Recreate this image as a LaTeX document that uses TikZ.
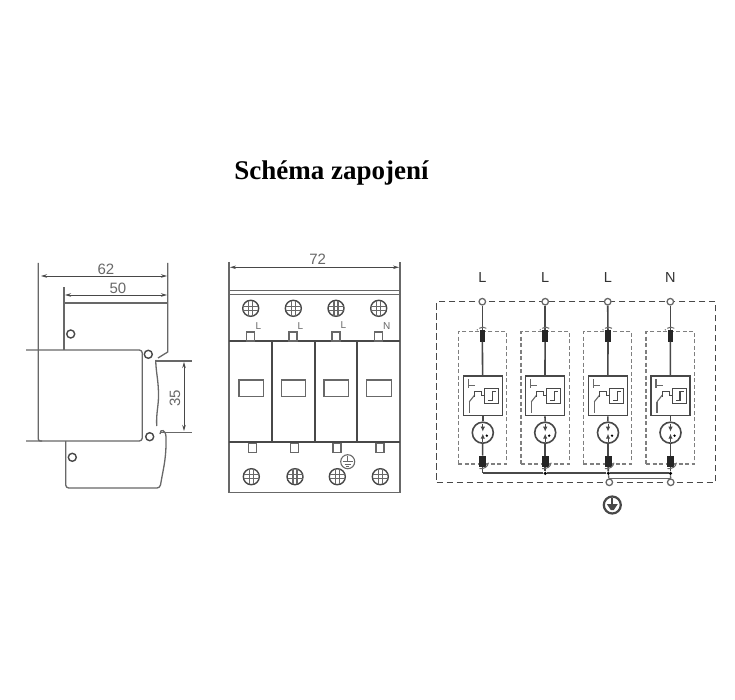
\documentclass[tikz,border=0pt]{standalone}
\usepackage{fontspec}
\setmainfont{Liberation Sans}
\newfontfamily\titlefont{Liberation Serif}
\usetikzlibrary{arrows.meta}
\definecolor{linegray}{HTML}{686868}
\definecolor{darkgray}{HTML}{484848}
\tikzset{
  thin line/.style={draw=linegray,line width=1.3pt},
  dark line/.style={draw=darkgray,line width=1.6pt},
  heavy line/.style={draw=darkgray,line width=2.1pt},
  dim line/.style={draw=darkgray,line width=0.9pt,{Stealth[length=6pt,width=3.5pt]}-{Stealth[length=6pt,width=3.5pt]}},
  dim text/.style={text=linegray,font=\fontsize{15}{16}\selectfont,inner sep=0pt},
  small text/.style={text=linegray,font=\fontsize{10}{10}\selectfont,inner sep=0pt},
  net text/.style={text=black!80,font=\fontsize{14.5}{15}\selectfont,inner sep=0pt},
  hole/.style={circle,draw=darkgray,line width=1.4pt,fill=white,inner sep=0pt,minimum size=8pt},
  tab/.style={rectangle,thin line,fill=white,inner sep=0pt,minimum width=8pt,minimum height=9pt},
  window/.style={rectangle,thin line,inner sep=0pt,minimum width=24.5pt,minimum height=16.5pt},
  terminal/.style={circle,thin line,fill=white,inner sep=0pt,minimum size=6.5pt},
  topfuse/.style={rectangle,fill=black!85,inner sep=0pt,minimum width=5.5pt,minimum height=11.5pt},
  lowfuse/.style={rectangle,fill=black!85,inner sep=0pt,minimum width=7pt,minimum height=11pt},
  module/.style={rectangle,draw=linegray!85,dash pattern=on 4pt off 2.5pt,line width=1.1pt,inner sep=0pt,minimum width=48.4pt,minimum height=132.3pt},
  case/.style={rectangle,draw=darkgray,dash pattern=on 6.5pt off 3.5pt,line width=1.3pt,inner sep=0pt,minimum width=279pt,minimum height=180.6pt},
  block/.style={rectangle,dark line,fill=white,inner sep=0pt,minimum width=39pt,minimum height=39.7pt},
  gap/.style={circle,dark line,fill=white,inner sep=0pt,minimum size=21pt},
  junction/.style={circle,fill=black,inner sep=0pt,minimum size=3.5pt},
  screw/.pic={
    \draw[draw=darkgray,line width=1.4pt] (0,0) circle (8);
    \draw[thin line,line width=1.1pt] (-2,-7.5) -- (-2,7.5) (2,-7.5) -- (2,7.5) (-7.5,-2) -- (7.5,-2) (-7.5,2) -- (7.5,2);
  },
  earthmark/.pic={
    \draw[thin line,line width=1.1pt] (0,0) circle (7);
    \draw[thin line,line width=1pt] (-5,0) -- (5,0) (-3,2.5) -- (3,2.5) (-1.5,4.5) -- (1.5,4.5) (0,-6) -- (0,0);
  },
  limiter/.pic={
    \draw[thin line,line width=1.1pt] (-14.5,-16.5) -- (-14.5,-7.5) (-14.5,-10) -- (-8,-10) (-13.5,6) -- (-13.5,17);
    \draw[thin line,line width=1.1pt] (-13.5,6) -- (-8,-1);
    \draw[dark line,line width=1.1pt] (-8,1) -- (-8,-4) -- (-1,-4) -- (-1,0) -- (2,0);
    \draw[dark line,line width=1.2pt] (2,-7.5) rectangle (16,8);
    \draw[dark line,line width=1.1pt] (5.5,5) -- (9.5,5) -- (9.5,-4.5) -- (13,-4.5);
  },
  sparks/.pic={
    \draw[darkgray,line width=1pt,-{Latex[length=5pt,width=4.5pt]}] (0,-9) -- (0,-1);
    \draw[darkgray,line width=1pt,-{Latex[length=5pt,width=4.5pt]}] (0,9) -- (0,1);
    \fill[black] (4,3) circle (1.3);
  },
  hooktop/.pic={
    \draw[thin line,line width=1pt] (-3,-7.5) .. controls (-1,-9) and (2,-9) .. (4,-7.5);
    \fill[linegray] (-5,-6) circle (0.7);
  },
  hooklow/.pic={
    \draw[thin line,line width=1pt] (6,1.5) .. controls (5,6) and (2,7.5) .. (-3,7.5);
  },
  pe/.pic={
    \draw[darkgray,line width=2.2pt] (0,0) circle (8.5);
    \draw[darkgray,line width=1.8pt] (0,-7) -- (0,4);
    \fill[darkgray] (-5.5,-1) -- (5.5,-1) -- (1.5,5) -- (-1.5,5) -- cycle;
  }
}
\begin{document}
\begin{tikzpicture}[x=1pt,y=-1pt]
        \useasboundingbox[fill=white] (0,0) rectangle (735,700);

        % Title
        \node[font=\titlefont\bfseries\fontsize{27}{30}\selectfont,inner sep=0pt] (title) at (331.5,173) {Schéma zapojení};

        % Side view outline
        \draw[thin line,rounded corners=3pt] (26,350) -- (142.3,350) -- (142.3,441) -- (26,441);
        \draw[thin line,rounded corners=2pt] (38.3,263) -- (38.3,441) -- (42,441);
        \draw[thin line] (64,287) -- (64,350);
        \draw[thin line] (64,303) -- (167.7,303);
        \draw[thin line] (167.7,263) -- (167.7,352) -- (158,358);
        \draw[thin line] (155.7,360) .. controls (156,372) and (158,378) .. (158.5,392) .. controls (159,405) and (156,412) .. (156.7,426);
        \draw[thin line] (155.7,361) -- (191.7,361);
        \draw[thin line] (160,432.7) -- (192,432.7);
        \draw[thin line,rounded corners=3pt] (65.7,441) -- (65.7,488) -- (160,488) .. controls (163,470) and (166,460) .. (166,440) .. controls (166,430) and (160,428) .. (160,434);

        \node[hole] (h1) at (70.7,334) {};
        \node[hole] (h2) at (148.3,354.3) {};
        \node[hole] (h3) at (149.7,436.7) {};
        \node[hole] (h4) at (72.3,457.3) {};

        % Side view dimensions
        \coordinate (a1) at (41,276);
        \coordinate (a2) at (167,276);
        \draw[dim line] (a1) -- (a2);
        \node[dim text] (w62) at (106,269) {62};
        \coordinate (b1) at (65,295);
        \coordinate (b2) at (167,295);
        \draw[dim line] (b1) -- (b2);
        \node[dim text] (w50) at (118,288) {50};
        \coordinate (c1) at (184,362);
        \coordinate (c2) at (184,431);
        \draw[dim line] (c1) -- (c2);
        \node[dim text,rotate=90] (w35) at (175,398) {35};

        % Front view outline
        \draw[thin line] (229,262) -- (229,492.3) -- (400,492.3) -- (400,262);
        \draw[thin line] (229,290.7) -- (400,290.7);
        \draw[thin line] (229,294.3) -- (400,294.3);
        \coordinate (d1) at (230,267.3);
        \coordinate (d2) at (399,267.3);
        \draw[dim line] (d1) -- (d2);
        \node[dim text] (w72) at (317.7,259) {72};
        \draw[heavy line] (229,341.3) -- (400,341.3);
        \draw[heavy line] (229,442.3) -- (400,442.3);
        \draw[heavy line] (272.3,341.3) -- (272.3,442.3);
        \draw[heavy line] (314.7,341.3) -- (314.7,442.3);
        \draw[heavy line] (357.3,341.3) -- (357.3,442.3);

        % Front view windows
        \node[window] (w1) at (251.2,388.3) {};
        \node[window] (w2) at (293.5,388.3) {};
        \node[window] (w3) at (336.3,388.3) {};
        \node[window] (w4) at (379,388.3) {};

        % Front view tabs
        \node[tab] (u1) at (250.7,336.5) {};
        \node[tab] (u2) at (293,336.5) {};
        \node[tab] (u3) at (336,336.5) {};
        \node[tab] (u4) at (378.5,336.5) {};
        \node[tab] (v1) at (252.3,448) {};
        \node[tab] (v2) at (294.7,448) {};
        \node[tab] (v3) at (337,448) {};
        \node[tab] (v4) at (380,448) {};

        % Front view screws
        \pic at (250.7,308.3) {screw};
        \pic at (293.3,308.3) {screw};
        \pic at (336,308.3) {screw};
        \pic at (378.7,308.3) {screw};
        \pic at (251.3,476.7) {screw};
        \pic at (295,476.7) {screw};
        \pic at (337.3,476.7) {screw};
        \pic at (380.3,476.7) {screw};
        \pic at (347.7,461.7) {earthmark};

        \node[small text] (l1) at (258.3,326) {L};
        \node[small text] (l2) at (300.3,326) {L};
        \node[small text] (l3) at (343.3,325) {L};
        \node[small text] (l4) at (386.7,325.7) {N};

        % Circuit frames
        \node[case] (frame) at (576.2,392) {};
        \node[module] (m1) at (482.5,397.8) {};
        \node[module] (m2) at (545.2,397.8) {};
        \node[module] (m3) at (607.5,397.8) {};
        \node[module] (m4) at (670.2,397.8) {};

        % First channel nodes
        \node[net text] (n1) at (482.3,277.5) {L};
        \node[terminal] (t1) at (482.3,301.7) {};
        \node[topfuse] (f1) at (482.3,335.8) {};
        \node[block] (s1) at (482.8,395.8) {};
        \node[gap] (g1) at (482.8,432.7) {};
        \node[lowfuse] (q1) at (482.5,461.2) {};
        \coordinate (j1) at (482.5,473.3);
        \draw[dark line] (t1) -- (f1);
        \draw[dark line] (f1) -- (s1);
        \draw[dark line] (s1) -- (g1);
        \draw[dark line] (g1) -- (q1);
        \draw[dark line] (q1) -- (j1);

        % Second channel nodes
        \node[net text] (n2) at (545.2,277.5) {L};
        \node[terminal] (t2) at (545.2,301.7) {};
        \node[topfuse] (f2) at (545.2,335.8) {};
        \node[block] (s2) at (544.8,395.8) {};
        \node[gap] (g2) at (545.2,432.7) {};
        \node[lowfuse] (q2) at (545.2,461.2) {};
        \node[junction] (j2) at (545.2,473.3) {};
        \draw[dark line] (t2) -- (f2);
        \draw[dark line] (f2) -- (s2);
        \draw[dark line] (s2) -- (g2);
        \draw[dark line] (g2) -- (q2);
        \draw[dark line] (q2) -- (j2);

        % Third channel nodes
        \node[net text] (n3) at (608,277.5) {L};
        \node[terminal] (t3) at (607.7,301.7) {};
        \node[topfuse] (f3) at (608,335.8) {};
        \node[block] (s3) at (607.8,395.8) {};
        \node[gap] (g3) at (608,432.7) {};
        \node[lowfuse] (q3) at (608,461.2) {};
        \node[junction] (j3) at (608.3,473.3) {};
        \draw[dark line] (t3) -- (f3);
        \draw[dark line] (f3) -- (s3);
        \draw[dark line] (s3) -- (g3);
        \draw[dark line] (g3) -- (q3);
        \draw[dark line] (q3) -- (j3);

        % Fourth channel nodes
        \node[net text] (n4) at (670.3,277.5) {N};
        \node[terminal] (t4) at (670.3,301.7) {};
        \node[topfuse] (f4) at (670.3,335.8) {};
        \node[block] (s4) at (670.5,395.8) {};
        \node[gap] (g4) at (670.5,432.7) {};
        \node[lowfuse] (q4) at (670.5,461.2) {};
        \node[junction] (j4) at (670.5,473.3) {};
        \draw[dark line] (t4) -- (f4);
        \draw[dark line] (f4) -- (s4);
        \draw[dark line] (s4) -- (g4);
        \draw[dark line] (g4) -- (q4);
        \draw[dark line] (q4) -- (j4);

        % Channel details
        \pic at (s1) {limiter};
        \pic at (s2) {limiter};
        \pic at (s3) {limiter};
        \pic at (s4) {limiter};
        \pic at (g1) {sparks};
        \pic at (g2) {sparks};
        \pic at (g3) {sparks};
        \pic at (g4) {sparks};
        \pic at (f1) {hooktop};
        \pic at (f2) {hooktop};
        \pic at (f3) {hooktop};
        \pic at (f4) {hooktop};
        \pic at (q1) {hooklow};
        \pic at (q2) {hooklow};
        \pic at (q3) {hooklow};
        \pic at (q4) {hooklow};

        % Earth bus
        \draw[heavy line] (j1) -- (j2);
        \draw[heavy line] (j2) -- (j3);
        \draw[heavy line] (j3) -- (j4);
        \node[terminal] (e1) at (609.3,482.3) {};
        \node[terminal] (e2) at (670.7,482.3) {};
        \coordinate (k1) at (609,478.3);
        \coordinate (k2) at (670.5,478.3);
        \draw[thin line,line width=1pt] (k1) -- (k2);
        \draw[thin line] (j3) -- (e1);
        \draw[thin line] (j4) -- (e2);
        \pic at (612.3,505) {pe};
\end{tikzpicture}
\end{document}
